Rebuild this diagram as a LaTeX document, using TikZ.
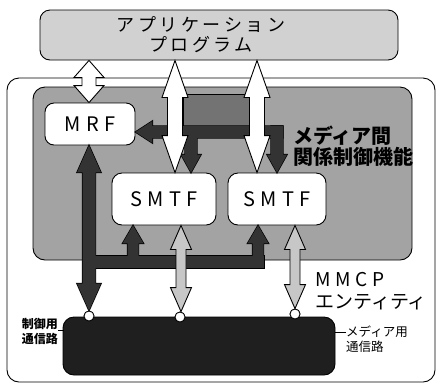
\documentclass[tikz,border=0pt]{standalone}
\usepackage{fontspec}
\setmainfont{Noto Sans CJK JP}
\usetikzlibrary{calc}
% block arrow: style, tail, tip, shaft half width, head half width, head length
\newcommand\blockarr[6]{%
  \path (#2) coordinate (ba-A) (#3) coordinate (ba-B);
  \coordinate (ba-C) at ($(ba-B)!#6!(ba-A)$);
  \path[#1] (ba-B) -- ($(ba-C)!#5!90:(ba-B)$) -- ($(ba-C)!#4!90:(ba-B)$)
    -- ($(ba-A)!#4!90:(ba-C)$) -- ($(ba-A)!#4!-90:(ba-C)$)
    -- ($(ba-C)!#4!-90:(ba-B)$) -- ($(ba-C)!#5!-90:(ba-B)$) -- cycle;}
% double block arrow: style, end1, end2, shaft half width, head half width, head length
\newcommand\dblarr[6]{%
  \path (#2) coordinate (da-A) (#3) coordinate (da-B);
  \coordinate (da-C) at ($(da-B)!#6!(da-A)$);
  \coordinate (da-D) at ($(da-A)!#6!(da-B)$);
  \path[#1] (da-B) -- ($(da-C)!#5!90:(da-B)$) -- ($(da-C)!#4!90:(da-B)$)
    -- ($(da-D)!#4!-90:(da-A)$) -- ($(da-D)!#5!-90:(da-A)$) -- (da-A)
    -- ($(da-D)!#5!90:(da-A)$) -- ($(da-D)!#4!90:(da-A)$)
    -- ($(da-C)!#4!-90:(da-B)$) -- ($(da-C)!#5!-90:(da-B)$) -- cycle;}
\begin{document}
\begin{tikzpicture}[x=1pt,y=-1pt,
  rbox/.style={draw=black,line width=0.9pt,inner sep=0pt},
  lbl/.style={inner sep=0pt},
  darro/.style={draw=black,line width=1.4pt,line join=miter},
  darrf/.style={fill=black!80},
  warr/.style={fill=white,draw=black,line width=0.9pt,line join=miter},
  marr/.style={fill=black!22,draw=black,line width=0.9pt,line join=miter},
  latin/.style={font=\fontsize{20}{24}\selectfont\addfontfeature{LetterSpace=28}},
  dot/.style={circle,draw=black,line width=0.8pt,fill=white,minimum size=10pt,inner sep=0pt}
]
\useasboundingbox (0,0) rectangle (438,384);
% boxes
\node[rbox,fill=black!18,rounded corners=10pt,minimum width=358pt,minimum height=50pt] (app) at (219,35) {};
\node[lbl,align=center,font=\fontsize{18}{20}\selectfont\addfontfeature{LetterSpace=20}] (apptext) at (201,35) {アプリケーション\\プログラム};
\node[rbox,fill=white,rounded corners=12pt,minimum width=428pt,minimum height=304pt] (mmcp) at (221,230) {};
\node[rbox,fill=black!36,rounded corners=12pt,minimum width=379pt,minimum height=173pt] (rel) at (222.5,173.5) {};
\node[rbox,fill=black!88,rounded corners=11pt,minimum width=272pt,minimum height=58pt] (net) at (199,346) {};
\node[draw=black,line width=0.8pt,fill=black!55,minimum width=69pt,minimum height=36pt,inner sep=0pt] (ctl) at (217.5,112) {};
\node[rbox,fill=white,rounded corners=9pt,minimum width=90pt,minimum height=42pt,latin] (mrf) at (90,124) {MRF};
\node[rbox,fill=white,rounded corners=10pt,minimum width=104pt,minimum height=52pt,latin] (smtf1) at (164,199) {SMTF};
\node[rbox,fill=white,rounded corners=10pt,minimum width=98pt,minimum height=52pt,latin] (smtf2) at (277,199) {SMTF};
\node[dot] (c1) at (89,316) {};
\node[dot] (c2) at (180,317) {};
\node[dot] (c3) at (295,314) {};
% dark control arrows: outline pass then fill pass
\foreach \st in {darro,darrf}{
  \blockarr{\st}{283,132}{mrf.east |- 0,132}{6pt}{11pt}{17pt}
  \blockarr{\st}{277,126}{277,0 |- smtf2.north}{6pt}{10pt}{18pt}
  \blockarr{\st}{191,132}{191,0 |- smtf1.north}{6pt}{10pt}{18pt}
  \dblarr{\st}{89,0 |- mrf.south}{89,0 |- c1.north}{6.5pt}{12pt}{27pt}
  \path[\st] (82.5,256) rectangle (264,268);
  \blockarr{\st}{133,262}{133,0 |- smtf1.south}{5.5pt}{10.5pt}{18pt}
  \blockarr{\st}{258,262}{258,0 |- smtf2.south}{5.5pt}{10.5pt}{18pt}
}
% white arrows to the application
\dblarr{warr}{89,0 |- app.south}{89,0 |- mrf.north}{7pt}{15pt}{17pt}
\dblarr{warr}{175,0 |- app.south}{175,0 |- smtf1.north}{7.5pt}{13pt}{37pt}
\dblarr{warr}{257,0 |- app.south}{257,0 |- smtf2.north}{7.5pt}{13pt}{37pt}
% media arrows
\dblarr{marr}{181,0 |- smtf1.south}{181,0 |- c2.north}{5pt}{10.5pt}{24pt}
\dblarr{marr}{295,0 |- smtf2.south}{295,0 |- c3.north}{5pt}{10.5pt}{24pt}
% redraw dots on top
\node[dot] at (c1) {};
\node[dot] at (c2) {};
\node[dot] at (c3) {};
% labels
\node[lbl,anchor=west,align=left,font=\bfseries\fontsize{20}{21}\selectfont] (reltext) at (293,146) {メディア間\\関係制御機能};
\node[lbl,anchor=north west,align=left,font=\fontsize{19}{22}\selectfont] (mmcptext) at (315,272) {{\addfontfeature{LetterSpace=25}MMCP}\\エンティティ};
\node[lbl,anchor=east,align=left,font=\bfseries\fontsize{12}{15}\selectfont] (ctrltext) at (58,331) {制御用\\通信路};
\coordinate (ctrlend) at (64,330);
\draw[line width=0.8pt] (ctrltext.east |- ctrlend) -- (ctrlend);
\node[lbl,anchor=west,align=left,font=\fontsize{12.5}{15}\selectfont] (medtext) at (346,339) {メディア用\\通信路};
\draw[line width=0.8pt] (net.east |- 0,332) -- (medtext.west |- 0,332);
\end{tikzpicture}
\end{document}
